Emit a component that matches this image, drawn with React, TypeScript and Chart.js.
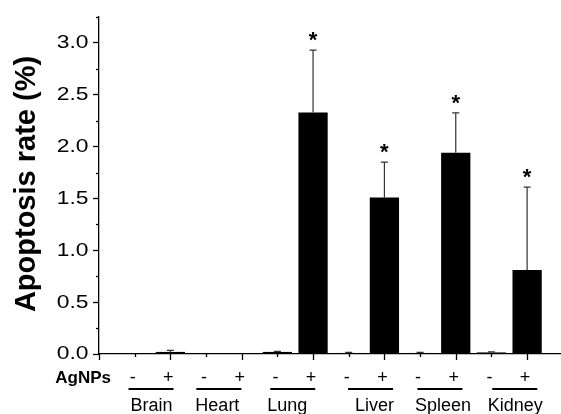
import React, { useEffect, useRef } from "react";
import { Chart, registerables } from "chart.js";

Chart.register(...registerables);

const groups = ["Brain", "Heart", "Lung", "Liver", "Spleen", "Kidney"];
const treatment = ["-", "+"];
const minusValues = [0, 0, 0.02, 0.01, 0.01, 0.015];
const minusErrors = [0, 0, 0.005, 0.005, 0.005, 0.005];
const plusValues = [0.02, 0.005, 2.33, 1.51, 1.94, 0.81];
const plusErrors = [0.015, 0, 0.6, 0.34, 0.385, 0.8];
const significant = [false, false, true, true, true, true];
const yTicks = [0, 0.5, 1.0, 1.5, 2.0, 2.5, 3.0];
const yMax = 3.25;

const FONT = "'Liberation Sans', Arial, sans-serif";

export default function App() {
  const ref = useRef<HTMLCanvasElement | null>(null);

  useEffect(() => {
    if (!ref.current) return;
    // bar positions: group g -> minus at 2g+1, plus at 2g+2
    const points: { x: number; y: number }[] = [];
    const errs: number[] = [];
    const sig: boolean[] = [];
    groups.forEach((_, g) => {
      points.push({ x: 2 * g + 1, y: minusValues[g] });
      errs.push(minusErrors[g]);
      sig.push(false);
      points.push({ x: 2 * g + 2, y: plusValues[g] });
      errs.push(plusErrors[g]);
      sig.push(significant[g]);
    });

    const nameOffsets = [-1, -6.5, -8, 8, 5, 6];
    const lineOffsets = [-1.5, -5, -2.5, 4, 2, 5.5];

    const annot = {
      id: "annot",
      afterDatasetsDraw(chart: any) {
        const ctx = chart.ctx as CanvasRenderingContext2D;
        const xs = chart.scales.x;
        const ys = chart.scales.y;
        const area = chart.chartArea;
        ctx.save();
        // error bars
        ctx.strokeStyle = "#333";
        ctx.lineWidth = 1.2;
        points.forEach((p, i) => {
          if (errs[i] <= 0) return;
          const px = xs.getPixelForValue(p.x);
          const y0 = ys.getPixelForValue(p.y);
          const y1 = ys.getPixelForValue(p.y + errs[i]);
          ctx.beginPath();
          ctx.moveTo(px, y0);
          ctx.lineTo(px, y1);
          ctx.moveTo(px - 3.5, y1);
          ctx.lineTo(px + 3.5, y1);
          ctx.stroke();
        });
        // asterisks
        ctx.fillStyle = "#000";
        ctx.font = `bold 22px ${FONT}`;
        ctx.textAlign = "center";
        ctx.textBaseline = "alphabetic";
        points.forEach((p, i) => {
          if (!sig[i]) return;
          const px = xs.getPixelForValue(p.x);
          const y1 = ys.getPixelForValue(p.y + errs[i]);
          ctx.fillText("*", px, y1 - 3);
        });
        // y tick labels (slightly wide digits as in the reference)
        ctx.font = `18px ${FONT}`;
        ctx.textAlign = "right";
        ctx.textBaseline = "middle";
        ys.ticks.forEach((t: any) => {
          const py = ys.getPixelForValue(t.value);
          ctx.save();
          ctx.translate(88.5, py + 0.5);
          ctx.scale(1.27, 1);
          ctx.fillText(Number(t.value).toFixed(1), 0, 0);
          ctx.restore();
        });
        // minor y ticks
        ctx.strokeStyle = "#000";
        ctx.lineWidth = 1.3;
        for (let v = 0.25; v <= yMax + 1e-6; v += 0.5) {
          const py = Math.round(ys.getPixelForValue(v)) + 0.5;
          ctx.beginPath();
          ctx.moveTo(area.left - 3, py);
          ctx.lineTo(area.left, py);
          ctx.stroke();
        }
        // x ticks
        for (let k = 0; k <= 12; k++) {
          const px = Math.round(xs.getPixelForValue(k)) + 0.5;
          const len = k % 2 === 0 ? 6 : 3;
          ctx.beginPath();
          ctx.moveTo(px, area.bottom);
          ctx.lineTo(px, area.bottom + len);
          ctx.stroke();
        }
        // treatment labels
        ctx.textAlign = "center";
        ctx.font = `18px ${FONT}`;
        ctx.textBaseline = "middle";
        points.forEach((p, i) => {
          const px = xs.getPixelForValue(p.x);
          ctx.fillText(treatment[i % 2], px - 2, 378);
        });
        ctx.font = `bold 17px ${FONT}`;
        ctx.textAlign = "right";
        ctx.fillText("AgNPs", 111, 378);
        // group lines and names
        ctx.textAlign = "center";
        ctx.textBaseline = "alphabetic";
        ctx.font = `18px ${FONT}`;
        ctx.lineWidth = 2;
        groups.forEach((name, g) => {
          const c =
            (xs.getPixelForValue(2 * g + 1) + xs.getPixelForValue(2 * g + 2)) / 2;
          const lc = c + lineOffsets[g];
          ctx.beginPath();
          ctx.moveTo(lc - 22.5, 389);
          ctx.lineTo(lc + 22.5, 389);
          ctx.stroke();
          ctx.fillText(name, c + nameOffsets[g], 411);
        });
        // y title
        ctx.save();
        ctx.translate(27, 184);
        ctx.rotate(-Math.PI / 2);
        ctx.font = `bold 29px ${FONT}`;
        ctx.textBaseline = "middle";
        ctx.textAlign = "center";
        ctx.fillText("Apoptosis rate (%)", 0, 0);
        ctx.restore();
        ctx.restore();
      },
    };

    const chart = new Chart(ref.current, {
      type: "bar",
      data: {
        datasets: [
          {
            data: points,
            backgroundColor: "#000",
            borderWidth: 0,
            barPercentage: 0.82,
            categoryPercentage: 1,
          },
        ],
      },
      options: {
        animation: false,
        responsive: false,
        devicePixelRatio: 1,
        layout: { padding: { top: 17, right: 0, left: 0, bottom: 0 } },
        plugins: {
          legend: { display: false },
          tooltip: { enabled: false },
        },
        scales: {
          x: {
            type: "linear",
            offset: false,
            min: 0,
            max: 12.95,
            ticks: { display: false },
            grid: { display: false, drawTicks: false },
            border: { display: true, color: "#000", width: 1.3 },
            afterFit: (s: any) => {
              s.height = 60;
            },
          },
          y: {
            type: "linear",
            min: 0,
            max: yMax,
            afterBuildTicks: (s: any) => {
              s.ticks = yTicks.map((v) => ({ value: v }));
            },
            ticks: {
              display: false,
            },
            grid: {
              drawOnChartArea: false,
              drawTicks: true,
              tickLength: 6,
              tickColor: "#000",
              tickWidth: 1.3,
            },
            border: { display: true, color: "#000", width: 1.3 },
            afterFit: (s: any) => {
              s.width = 99;
            },
          },
        },
      },
      plugins: [annot],
    });
    return () => chart.destroy();
  }, []);

  return (
    <div style={{ position: "fixed", left: 0, top: 0, width: 561, height: 414, background: "#fff" }}>
      <canvas ref={ref} width={561} height={414} style={{ display: "block" }} />
    </div>
  );
}
